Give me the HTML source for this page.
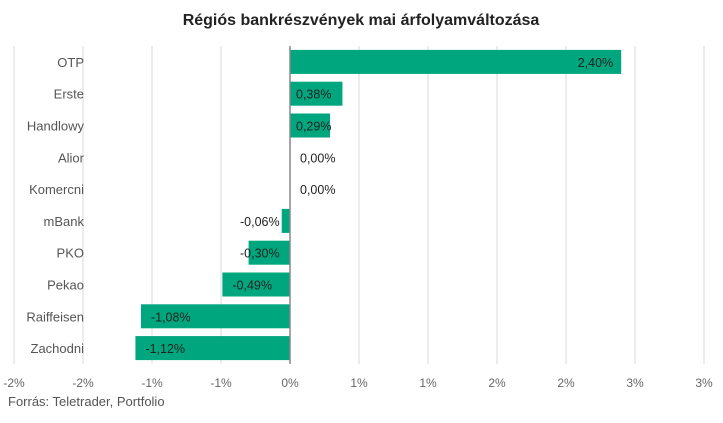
<!DOCTYPE html>
<html><head><meta charset="utf-8"><style>
body{margin:0;background:#fff;font-family:"Liberation Sans",sans-serif}
</style></head><body>
<svg id="c" width="723" height="418" viewBox="0 0 723 418" xmlns="http://www.w3.org/2000/svg">
<text x="361" y="25" text-anchor="middle" font-size="16" font-weight="bold" fill="#222">Régiós bankrészvények mai árfolyamváltozása</text>
<text x="8" y="406" font-size="13" fill="#555">Forrás: Teletrader, Portfolio</text>
<g id="grid"></g><g id="bars"></g><g id="labels"></g>
</svg>
<script>
const categories=["OTP","Erste","Handlowy","Alior","Komercni","mBank","PKO","Pekao","Raiffeisen","Zachodni"];
const values=[2.40,0.38,0.29,0.00,0.00,-0.06,-0.30,-0.49,-1.08,-1.12];
const valueLabels=["2,40%","0,38%","0,29%","0,00%","0,00%","-0,06%","-0,30%","-0,49%","-1,08%","-1,12%"];
const ticks=[-2,-1.5,-1,-0.5,0,0.5,1,1.5,2,2.5,3];
const tickLabels=["-2%","-2%","-1%","-1%","0%","1%","1%","2%","2%","3%","3%"];
const NS="http://www.w3.org/2000/svg";
const x0=290,k=138,plotTop=46,band=31.8;
const X=v=>x0+v*k, Y=i=>plotTop+i*band;
function mk(t,a,p){const e=document.createElementNS(NS,t);for(const n in a)e.setAttribute(n,a[n]);document.getElementById(p).appendChild(e);return e;}
ticks.forEach((t,i)=>{
 const x=X(t);
 if(t!==0){const l=mk('line',{x1:x,x2:x,y1:plotTop,y2:plotTop+10*band,stroke:'#d9d9d9','stroke-width':1},'grid');
 
 }
 const tx=mk('text',{x:x,y:387,'text-anchor':'middle','font-size':12,fill:'#666'},'grid');
 tx.textContent=tickLabels[i];
 
 
});
categories.forEach((c,i)=>{
 const cy=Y(i)+band/2;
 const cl=mk('text',{x:84,y:cy+5,'text-anchor':'end','font-size':13,fill:'#555'},'labels');
 cl.textContent=c;
 
 
 const v=values[i];
 const a=Math.min(X(0),X(v)),w=Math.abs(X(v)-X(0));
 if(w>0){const r=mk('rect',{x:a,y:cy-12,width:w,height:24,fill:'#00a67e'},'bars');
 
 }
 let lx,anchor='start';
 if(v>0){ if(w>80){lx=X(v)-8;anchor='end';} else lx=296; }
 else if(v===0) lx=300;
 else { lx=Math.min(X(v)+10,240); }
 const vl=mk('text',{x:lx,y:cy+5,'text-anchor':anchor,'font-size':12.5,fill:'#222'},'labels');
 vl.textContent=valueLabels[i];
 
 
});
const z=mk('line',{x1:X(0),x2:X(0),y1:plotTop,y2:plotTop+10*band,stroke:'#888','stroke-width':1.5},'bars');


</script>
</body></html>
